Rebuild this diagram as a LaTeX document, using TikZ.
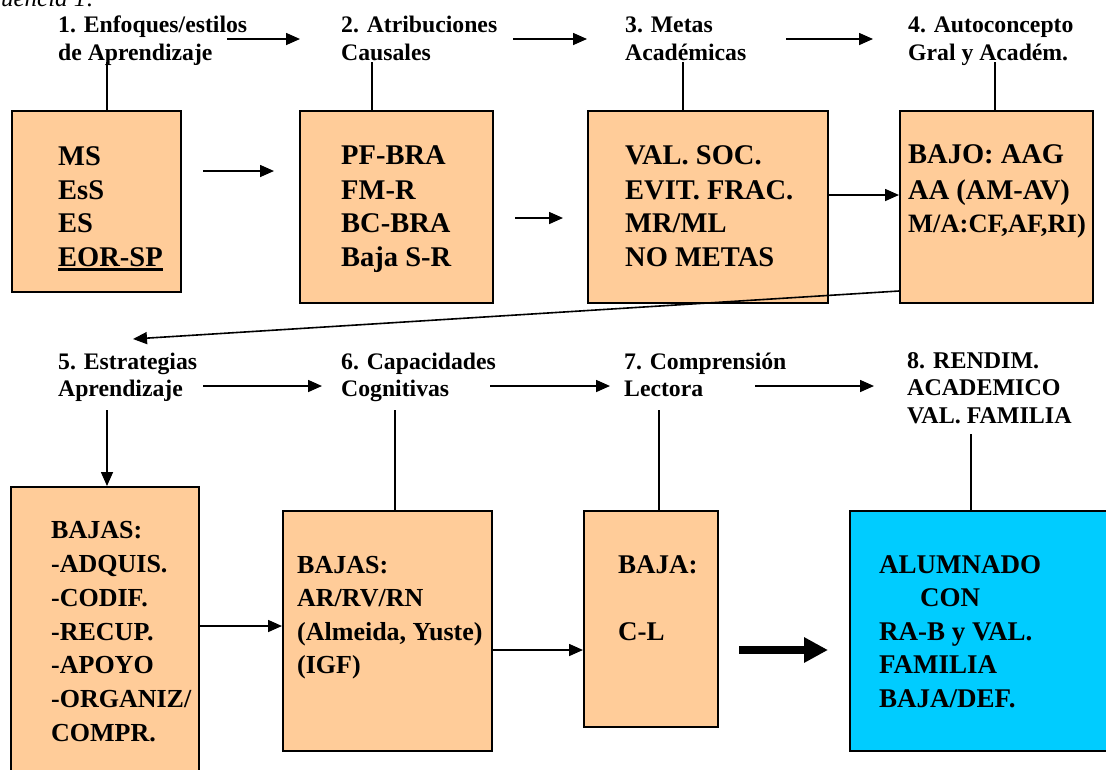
\documentclass[tikz,border=0pt]{standalone}
\usepackage{fontspec}
\setmainfont{Liberation Serif}
\usetikzlibrary{arrows.meta}
\definecolor{boxfill}{HTML}{FFCC99}
\definecolor{cyanfill}{HTML}{00CCFF}
\newcommand\myul[1]{\setbox0=\hbox{#1}\rlap{\rule[-4.5pt]{\wd0}{2.5pt}}\box0}
\begin{document}
\begin{tikzpicture}[x=1pt,y=-1pt,
  box/.style={draw=black, line width=2pt, fill=boxfill, anchor=north west, inner sep=0pt},
  cbox/.style={draw=black, line width=2pt, fill=cyanfill, anchor=north west, inner sep=0pt},
  conn/.style={line width=1.6pt},
  arr/.style={conn, -{Triangle[length=14pt,width=12pt]}},
  bigarr/.style={line width=8pt, -{Triangle[length=24pt,width=24pt]}},
  lbl/.style={anchor=base west, inner sep=0pt, font=\fontsize{23.7}{28}\selectfont\bfseries},
  lblb/.style={anchor=base west, inner sep=0pt, font=\fontsize{24}{28}\selectfont\bfseries},
  btxt/.style={anchor=base west, inner sep=0pt, font=\fontsize{28.5}{34}\selectfont\bfseries},
  btxtb/.style={anchor=base west, inner sep=0pt, font=\fontsize{26}{34}\selectfont\bfseries},
  btxtc/.style={anchor=base west, inner sep=0pt, font=\fontsize{27}{34}\selectfont\bfseries},
]
\useasboundingbox (0,0) rectangle (1106,769);

% cut-off caption
\node[anchor=base east, inner sep=0pt, font=\fontsize{25}{30}\selectfont\itshape] (cap) at (95,6) {Secuencia 1:};

% ---------- top row labels ----------
\node[lbl] (L1a) at (58,32) {1. Enfoques/estilos};
\node[lbl] (L1b) at (58,60) {de Aprendizaje};
\node[lbl] (L2a) at (341,32) {2. Atribuciones};
\node[lbl] (L2b) at (341,60) {Causales};
\node[lbl] (L3a) at (625,32) {3. Metas};
\node[lbl] (L3b) at (625,60) {Académicas};
\node[lbl] (L4a) at (908,32) {4. Autoconcepto};
\node[lbl] (L4b) at (908,60) {Gral y Académ.};

% ---------- top row boxes ----------
\node[box, minimum width=169pt, minimum height=181pt] (B1) at (11,110) {};
\node[box, minimum width=193pt, minimum height=192pt] (B2) at (299,110) {};
\node[box, minimum width=240pt, minimum height=192pt] (B3) at (587,110) {};
\node[box, minimum width=193pt, minimum height=192pt] (B4) at (899,110) {};

\node[btxt] (b1t1) at (58,165) {MS};
\node[btxt] (b1t2) at (58,199) {EsS};
\node[btxt] (b1t3) at (58,232) {ES};
\node[btxt] (b1t4) at (58,266) {\myul{EOR-SP}};

\node[btxt] (b2t1) at (341,164) {PF-BRA};
\node[btxt] (b2t2) at (341,199) {FM-R};
\node[btxt] (b2t3) at (341,232) {BC-BRA};
\node[btxt] (b2t4) at (341,266) {Baja S-R};

\node[btxt] (b3t1) at (625,164) {VAL. SOC.};
\node[btxt] (b3t2) at (625,199) {EVIT. FRAC.};
\node[btxt] (b3t3) at (625,232) {MR/ML};
\node[btxt] (b3t4) at (625,266) {NO METAS};

\node[btxt] (b4t1) at (908,163) {BAJO: AAG};
\node[btxt] (b4t2) at (908,199) {AA (AM-AV)};
\node[anchor=base west, inner sep=0pt, font=\fontsize{26.5}{34}\selectfont\bfseries] (b4t3) at (908,232) {M/A:CF,AF,RI)};

% ---------- top row connectors ----------
\coordinate (t1s) at (227,39); \coordinate (t1e) at (300,39);
\coordinate (t2s) at (513,39); \coordinate (t2e) at (587,39);
\coordinate (t3s) at (786,39); \coordinate (t3e) at (873,39);
\draw[arr] (t1s) -- (t1e);
\draw[arr] (t2s) -- (t2e);
\draw[arr] (t3s) -- (t3e);

\coordinate (v1) at (107,62); \coordinate (v2) at (372,62);
\coordinate (v3) at (683,62); \coordinate (v4) at (995,62);
\draw[conn] (v1) -- (v1 |- B1.north);
\draw[conn] (v2) -- (v2 |- B2.north);
\draw[conn] (v3) -- (v3 |- B3.north);
\draw[conn] (v4) -- (v4 |- B4.north);

\coordinate (m1s) at (203,171); \coordinate (m1e) at (274,171);
\coordinate (m2s) at (515,218); \coordinate (m2e) at (563,218);
\draw[arr] (m1s) -- (m1e);
\draw[arr] (m2s) -- (m2e);
\draw[arr] (B3.east |- 0,195) -- (B4.west |- 0,195);

\coordinate (d5) at (133,339);
\draw[arr] (B4.west |- 0,291) -- (d5);

% ---------- bottom row labels ----------
\node[lbl] (L5a) at (58,369) {5. Estrategias};
\node[lbl] (L5b) at (58,396) {Aprendizaje};
\node[lbl] (L6a) at (341,369) {6. Capacidades};
\node[lbl] (L6b) at (341,396) {Cognitivas};
\node[lbl] (L7a) at (624,369) {7. Comprensión};
\node[lbl] (L7b) at (624,396) {Lectora};
\node[lblb] (L8a) at (907,368) {8. RENDIM.};
\node[lblb] (L8b) at (907,395) {ACADEMICO};
\node[lblb] (L8c) at (907,423) {VAL. FAMILIA};

% ---------- bottom row boxes ----------
\node[box, minimum width=188pt, minimum height=310pt] (B5) at (10,486) {};
\node[box, minimum width=209pt, minimum height=240pt] (B6) at (282,510) {};
\node[box, minimum width=134pt, minimum height=216pt] (B7) at (583,510) {};
\node[cbox, minimum width=280pt, minimum height=240pt] (B8) at (849,510) {};

\node[btxtb] (b5t1) at (51,538) {BAJAS:};
\node[btxtb] (b5t2) at (51,572) {-ADQUIS.};
\node[btxtb] (b5t3) at (51,606) {-CODIF.};
\node[btxtb] (b5t4) at (51,640) {-RECUP.};
\node[btxtb] (b5t5) at (51,673) {-APOYO};
\node[btxtb] (b5t6) at (51,707) {-ORGANIZ/};
\node[btxtb] (b5t7) at (51,741) {COMPR.};

\node[btxtb] (b6t1) at (297,573) {BAJAS:};
\node[btxtb] (b6t2) at (297,606) {AR/RV/RN};
\node[btxtb] (b6t3) at (297,640) {(Almeida, Yuste)};
\node[btxtb] (b6t4) at (297,673) {(IGF)};

\node[btxtc] (b7t1) at (618,573) {BAJA:};
\node[btxtc] (b7t2) at (618,640) {C-L};

\node[btxtc] (b8t1) at (879,573) {ALUMNADO};
\node[btxtc] (b8t2) at (920,606) {CON};
\node[btxtc] (b8t3) at (879,640) {RA-B y VAL.};
\node[btxtc] (b8t4) at (879,673) {FAMILIA};
\node[btxtc] (b8t5) at (879,707) {BAJA/DEF.};

% ---------- bottom row connectors ----------
\coordinate (u1s) at (203,386); \coordinate (u1e) at (322,386);
\coordinate (u2s) at (490,386); \coordinate (u2e) at (610,386);
\coordinate (u3s) at (755,386); \coordinate (u3e) at (874,386);
\draw[arr] (u1s) -- (u1e);
\draw[arr] (u2s) -- (u2e);
\draw[arr] (u3s) -- (u3e);

\coordinate (v5) at (107,410); \coordinate (v6) at (395,410);
\coordinate (v7) at (659,410); \coordinate (v8) at (971,434);
\draw[arr] (v5) -- (v5 |- B5.north);
\draw[conn] (v6) -- (v6 |- B6.north);
\draw[conn] (v7) -- (v7 |- B7.north);
\draw[conn] (v8) -- (v8 |- B8.north);

\draw[arr] (B5.east |- 0,626) -- (B6.west |- 0,626);
\draw[arr] (B6.east |- 0,650) -- (B7.west |- 0,650);
\coordinate (k1) at (739,650); \coordinate (k2) at (828,650);
\draw[bigarr] (k1) -- (k2);
\end{tikzpicture}
\end{document}
